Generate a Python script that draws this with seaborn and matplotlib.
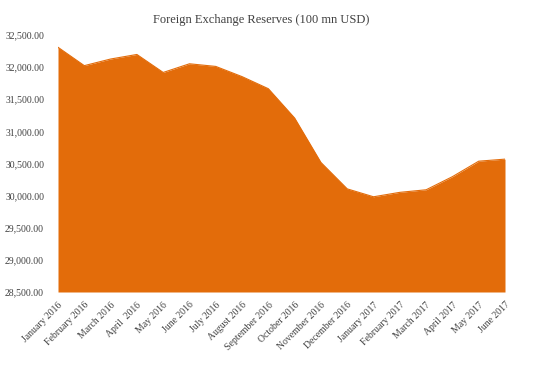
import matplotlib
matplotlib.use("Agg")
import matplotlib.pyplot as plt
import matplotlib.ticker as mticker
import seaborn as sns
import pandas as pd

# Reservas mensuales (100 mn USD)
months = ["January 2016", "February 2016", "March 2016", "April  2016", "May 2016",
          "June 2016", "July 2016", "August 2016", "September 2016", "October 2016",
          "November 2016", "December 2016", "January 2017", "February 2017",
          "March 2017", "April 2017", "May 2017", "June 2017"]
reserves = [32309, 32023, 32126, 32197, 31917, 32052, 32011, 31852, 31664, 31207,
            30516, 30105, 29982, 30051, 30091, 30295, 30536, 30568]

df = pd.DataFrame({"pos": range(len(months)), "month": months, "reserves": reserves})

sns.set_style("white")
plt.rcParams["font.family"] = ["Liberation Serif", "DejaVu Serif"]

orange = "#E36C0A"
fig = plt.figure(figsize=(5.51, 3.74), dpi=100)
ax = fig.add_axes([58 / 551, 1 - 292 / 374, (505 - 58) / 551, (292 - 35) / 374])

sns.lineplot(data=df, x="pos", y="reserves", color=orange, linewidth=0.8, ax=ax)
ax.fill_between(df["pos"], df["reserves"], 28500, color=orange, linewidth=0)

ax.set_xlim(0, len(months) - 1)
ax.set_ylim(28500, 32500)
ax.yaxis.set_major_locator(mticker.MultipleLocator(500))
ax.yaxis.set_major_formatter(mticker.StrMethodFormatter("{x:,.2f}"))
ax.set_xticks(df["pos"])
ax.set_xticklabels(months, rotation=45, ha="right", rotation_mode="anchor")
ax.tick_params(axis="both", length=0, labelsize=7, labelcolor="#404040")
ax.tick_params(axis="x", pad=6)
ax.tick_params(axis="y", pad=10)
ax.set_xlabel("")
ax.set_ylabel("")
for s in ax.spines.values():
    s.set_visible(False)

fig.text(261 / 551, 1 - 20 / 374, "Foreign Exchange Reserves (100 mn USD)",
         ha="center", va="center", fontsize=9, color="#404040")

fig.savefig("out.png", dpi=100)
